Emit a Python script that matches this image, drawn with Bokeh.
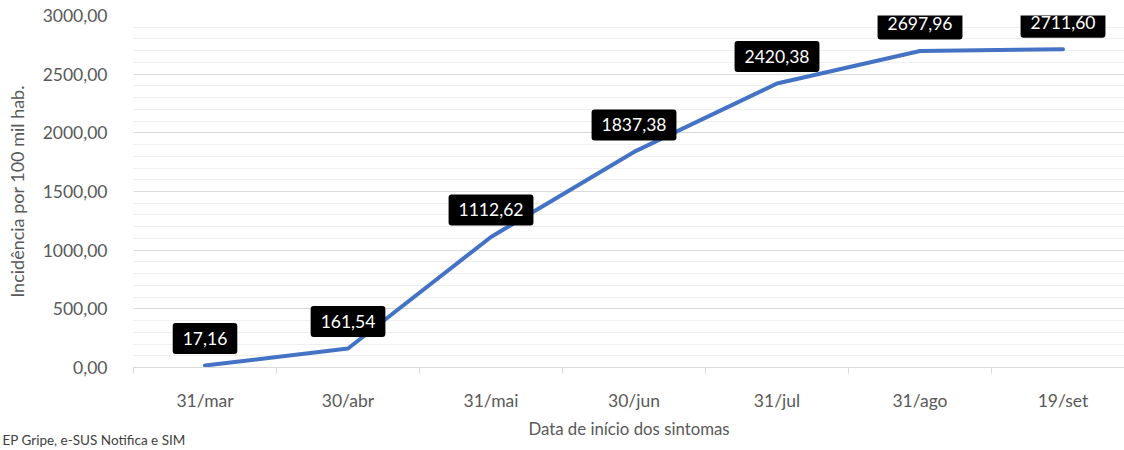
from bokeh.plotting import figure
from bokeh.models import Range1d, FixedTicker, SingleIntervalTicker, Title
from bokeh.core.properties import value
from bokeh.embed import file_html
from bokeh.resources import INLINE

categories = ["31/mar", "30/abr", "31/mai", "30/jun", "31/jul", "31/ago", "19/set"]
values = [17.16, 161.54, 1112.62, 1837.38, 2420.38, 2697.96, 2711.60]
value_labels = ["17,16", "161,54", "1112,62", "1837,38", "2420,38", "2697,96", "2711,60"]
y_ticks = [0, 500, 1000, 1500, 2000, 2500, 3000]
y_tick_labels = ["0,00", "500,00", "1000,00", "1500,00", "2000,00", "2500,00", "3000,00"]
y_title = "Incidência por 100 mil hab."
x_title = "Data de início dos sintomas"
source_text = "EP Gripe, e-SUS Notifica e SIM"

FONT = "Lato"
GRAY = "#595959"

xs = list(range(len(categories)))

p = figure(width=1124, height=450, output_backend="svg", toolbar_location=None,
           x_range=Range1d(-0.5, 6.43), y_range=Range1d(0, 3000),
           min_border_left=133, min_border_right=0, min_border_top=15,
           min_border_bottom=83)
p.outline_line_color = None
p.background_fill_color = "white"

p.line(xs, values, line_color="#4472C4", line_width=4, line_join="round", line_cap="round")

p.text(x=xs, y=values, text=value_labels, y_offset=-27,
       text_align="center", text_baseline="middle",
       text_color="white", text_font=value(FONT), text_font_size="17.5px",
       background_fill_color="black",
       padding=dict(left=10, right=10, top=9, bottom=9), border_radius=3)

xa = p.xaxis[0]
xa.ticker = FixedTicker(ticks=xs, minor_ticks=[i - 0.5 for i in range(len(categories) + 1)])
xa.major_label_overrides = {i: c for i, c in zip(xs, categories)}
xa.major_tick_line_color = None
xa.major_tick_out = 0
xa.major_tick_in = 0
xa.minor_tick_line_color = "#d9d9d9"
xa.minor_tick_out = 6
xa.minor_tick_in = 0
xa.axis_line_color = "#d9d9d9"
xa.major_label_text_font = FONT
xa.major_label_text_font_size = "17.5px"
xa.major_label_text_color = GRAY
xa.major_label_standoff = 16
xa.axis_label = x_title
xa.axis_label_text_font = FONT
xa.axis_label_text_font_size = "16.8px"
xa.axis_label_text_font_style = "normal"
xa.axis_label_text_color = GRAY
xa.axis_label_standoff = 4

ya = p.yaxis[0]
ya.ticker = SingleIntervalTicker(interval=500, num_minor_ticks=5)
ya.major_label_overrides = {t: l for t, l in zip(y_ticks, y_tick_labels)}
ya.axis_line_color = None
ya.major_tick_line_color = None
ya.minor_tick_line_color = None
ya.major_label_text_font = FONT
ya.major_label_text_font_size = "17.5px"
ya.major_label_text_color = GRAY
ya.major_label_standoff = 20
ya.axis_label = y_title
ya.axis_label_text_font = FONT
ya.axis_label_text_font_size = "18px"
ya.axis_label_text_font_style = "normal"
ya.axis_label_text_color = GRAY
ya.axis_label_standoff = 12

p.xgrid.grid_line_color = None
p.ygrid.grid_line_color = "#d9d9d9"
p.ygrid.minor_grid_line_color = "#efefef"

p.add_layout(Title(text=source_text, align="left", vertical_align="top",
                   offset=-131, standoff=-19, text_font=FONT, text_font_size="13.5px",
                   text_font_style="normal", text_color="#404040"), "below")

open("out.html", "w").write(file_html(p, INLINE))
